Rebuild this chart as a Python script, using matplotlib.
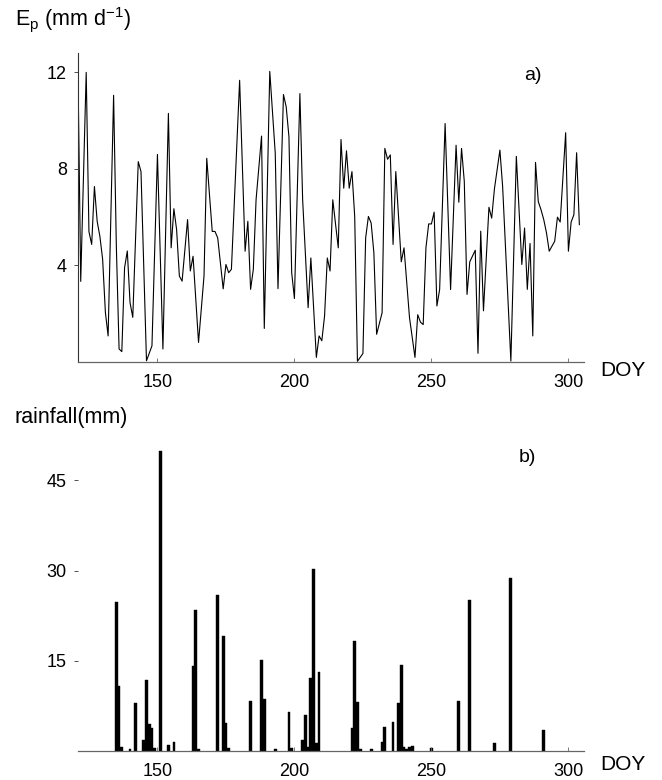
import matplotlib.pyplot as plt

plt.rcParams['font.family'] = ['Liberation Sans', 'DejaVu Sans']
plt.rcParams['mathtext.fontset'] = 'custom'
plt.rcParams['mathtext.rm'] = 'Liberation Sans'
plt.rcParams['mathtext.it'] = 'Liberation Sans:italic'

# a) potential evaporation, daily (DOY)
doy_ep = [121, 122, 124, 125, 126, 127, 128, 129, 130, 131, 132, 134, 135, 136, 137,
          138, 139, 140, 141, 143, 144, 146, 148, 150, 152, 154, 155, 156, 157, 158,
          159, 161, 162, 163, 165, 167, 168, 170, 171, 172, 174, 175, 176, 177, 180,
          182, 183, 184, 185, 186, 188, 189, 191, 193, 194, 196, 197, 198, 199, 200,
          202, 203, 205, 206, 208, 209, 210, 211, 212, 213, 214, 216, 217, 218, 219,
          220, 221, 222, 223, 225, 226, 227, 228, 229, 230, 232, 233, 234, 235, 236,
          237, 239, 240, 242, 244, 245, 246, 247, 248, 249, 250, 251, 252, 253, 255,
          257, 259, 260, 261, 262, 263, 264, 266, 267, 268, 269, 271, 272, 273, 275,
          276, 279, 281, 283, 284, 285, 286, 287, 288, 289, 290, 291, 292, 293, 294,
          295, 296, 297, 299, 300, 301, 302, 303, 304]
ep = [12.0, 3.34, 12.0, 5.4, 4.87, 7.27, 5.83, 5.2, 4.25, 2.06, 1.08, 11.05, 4.8, 0.54, 0.43,
      3.9, 4.6, 2.46, 1.85, 8.3, 7.89, 0.05, 0.67, 8.6, 0.54, 10.3, 4.73, 6.35, 5.48, 3.56,
      3.35, 5.9, 3.77, 4.38, 0.81, 3.56, 8.44, 5.41, 5.41, 5.14, 3.03, 4.04, 3.7, 3.84, 11.67,
      4.59, 5.83, 3.01, 3.84, 6.72, 9.36, 1.39, 12.04, 8.65, 3.04, 11.08, 10.57, 9.33, 3.7, 2.63,
      11.12, 6.72, 2.25, 4.31, 0.19, 1.08, 0.88, 1.91, 4.31, 3.77, 6.72, 4.73, 9.22, 7.2, 8.75,
      7.2, 7.89, 6.03, 0.03, 0.35, 5.14, 6.03, 5.76, 4.52, 1.15, 2.04, 8.85, 8.4, 8.58, 4.87,
      7.89, 4.15, 4.73, 1.84, 0.19, 1.96, 1.65, 1.55, 4.73, 5.72, 5.72, 6.21, 2.32, 3.0, 9.88,
      3.0, 8.98, 6.62, 8.85, 7.48, 2.8, 4.15, 4.63, 0.36, 5.42, 2.12, 6.41, 5.96, 7.17, 8.78,
      7.26, 0.04, 8.52, 4.04, 5.55, 3.01, 4.91, 1.08, 8.27, 6.65, 6.31, 5.9, 5.35, 4.59, 4.8,
      5.0, 6.0, 5.8, 9.5, 4.59, 5.8, 6.1, 8.67, 5.69]

# b) rainfall (only rainy days)
doy_rain = [135, 136, 137, 140, 142, 145, 146, 147, 148, 149, 151, 154, 156, 163, 164,
            165, 172, 174, 175, 176, 184, 188, 189, 193, 198, 199, 203, 204, 205, 206,
            207, 208, 209, 221, 222, 223, 224, 228, 232, 233, 236, 238, 239, 240, 241,
            242, 243, 250, 260, 264, 273, 279, 291]
rain = [24.8, 10.8, 0.7, 0.3, 8.0, 1.8, 11.8, 4.5, 3.8, 0.5, 49.8, 1.0, 1.55, 14.1, 23.4,
        0.3, 25.9, 19.1, 4.7, 0.5, 8.3, 15.2, 8.7, 0.3, 6.5, 0.5, 1.8, 5.9, 0.6, 12.2,
        30.2, 1.3, 13.1, 3.8, 18.3, 8.1, 0.3, 0.3, 1.55, 4.0, 4.8, 7.9, 14.3, 0.6, 0.3,
        0.7, 0.9, 0.5, 8.3, 25.1, 1.4, 28.7, 3.5]

x_ticks = [150, 200, 250, 300]
ep_ticks = [4, 8, 12]
rain_ticks = [15, 30, 45]

fig = plt.figure(figsize=(6.62, 7.8), dpi=100)
ax1 = fig.add_axes([0.1178, 0.5359, 0.7644, 0.3961])
ax2 = fig.add_axes([0.1178, 0.0372, 0.7644, 0.3948])

# top panel: line
ax1.plot(doy_ep, ep, color='black', linewidth=0.8)
ax1.set_xlim(121, 305.7)
ax1.set_ylim(0, 12.8)
ax1.set_yticks(ep_ticks)

# bottom panel: bars
ax2.bar(doy_rain, rain, width=1.0, color='black', edgecolor='black', linewidth=0.3)
ax2.set_xlim(121, 305.7)
ax2.set_ylim(0, 51.2)
ax2.set_yticks(rain_ticks)
ax2.spines['left'].set_visible(False)

for ax in (ax1, ax2):
    ax.set_xticks(x_ticks)
    ax.spines['top'].set_visible(False)
    ax.spines['right'].set_visible(False)
    ax.spines['bottom'].set_color('#666666')
    ax.spines['left'].set_color('#333333')
    ax.spines['bottom'].set_linewidth(0.9)
    ax.spines['left'].set_linewidth(0.8)
    ax.tick_params(axis='x', direction='in', length=3, width=0.6, color='#666666',
                   pad=9, labelsize=13)
    ax.tick_params(axis='y', direction='out', length=3, width=0.6, color='#333333',
                   pad=5, labelsize=13)

# labels
fig.text(15 / 662, 1 - 20 / 780, r'E$_{\rm p}$ (mm d$^{-1}$)', fontsize=15.5, va='center')
fig.text(15 / 662, 1 - 418 / 780, 'rainfall(mm)', fontsize=15.5, va='center')
fig.text(600 / 662, 1 - 370 / 780, 'DOY', fontsize=15, va='center')
fig.text(600 / 662, 1 - 765 / 780, 'DOY', fontsize=15, va='center')
fig.text(533 / 662, 1 - 75 / 780, 'a)', fontsize=14, va='center', ha='center')
fig.text(527 / 662, 1 - 458 / 780, 'b)', fontsize=14, va='center', ha='center')

fig.savefig('out.png', dpi=100)
